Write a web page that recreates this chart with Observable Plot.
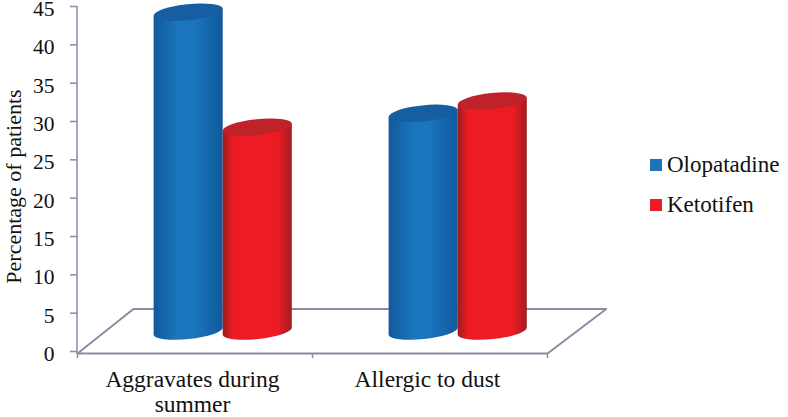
<!DOCTYPE html>
<html>
<head>
<meta charset="utf-8">
<script src="https://cdn.jsdelivr.net/npm/d3@7"></script>
<script src="https://cdn.jsdelivr.net/npm/@observablehq/plot@0.6"></script>
<style>
  html, body { margin: 0; padding: 0; background: #fff; }
  #chart { position: relative; width: 788px; height: 417px; overflow: hidden; }
  .legend { position: absolute; left: 650px; top: 145px; font: 23px "Liberation Serif", serif; color: #111; }
  .legend div { display: flex; align-items: center; height: 40px; }
  .legend i { width: 12px; height: 12px; margin-right: 5px; display: block; }
</style>
</head>
<body>
<div id="chart"></div>
<script>
const categories = ["Aggravates during\nsummer", "Allergic to dust"];
const seriesNames = ["Olopatadine", "Ketotifen"];
const olopatadine = [44.2, 31.0];
const ketotifen = [29.2, 32.6];
const yTicks = [0, 5, 10, 15, 20, 25, 30, 35, 40, 45];

const floorLevel = 2.6;
const cylinderWidth = 0.294;
const clusterCentre = 0.62;
const wall = "#8b8ba6";
const serif = "Liberation Serif";

const table = categories.flatMap((c, i) => [
  {slot: i + clusterCentre - cylinderWidth, series: seriesNames[0], value: olopatadine[i]},
  {slot: i + clusterCentre, series: seriesNames[1], value: ketotifen[i]}
]);
const floorOutline = [
  {x: 0, y: -0.26}, {x: 0.238, y: 5.55}, {x: 2.25, y: 5.55}, {x: 2, y: -0.26}, {x: 0, y: -0.26}
];

function cylinder(index, scales, values, dimensions, context, next) {
  const g = next(index, scales, values, dimensions, context);
  const tilt = 3.6, ry = 8;
  for (const r of [...g.querySelectorAll("rect")]) {
    const x = +r.getAttribute("x"), y = +r.getAttribute("y");
    const w = +r.getAttribute("width"), h = +r.getAttribute("height");
    const fill = r.getAttribute("fill");
    const rx = w / 2 * 1.003, cx = x + w / 2, rot = -6;
    const ns = "http://www.w3.org/2000/svg";
    const body = document.createElementNS(ns, "path");
    body.setAttribute("d",
      `M${x},${y + tilt}L${x},${y + h + tilt}A${rx},${ry} ${rot} 0 0 ${x + w},${y + h - tilt}L${x + w},${y - tilt}Z`);
    body.setAttribute("fill", fill);
    const top = document.createElementNS(ns, "ellipse");
    top.setAttribute("cx", cx); top.setAttribute("cy", y);
    top.setAttribute("rx", rx); top.setAttribute("ry", ry);
    top.setAttribute("transform", `rotate(${rot} ${cx} ${y})`);
    top.setAttribute("fill", fill.includes("blue") ? "#155ea2" : "#bf2329");
    r.replaceWith(body, top);
  }
  return g;
}

const plot = Plot.plot({
  width: 788,
  height: 417,
  marginLeft: 77,
  marginRight: 241,
  marginTop: 6,
  marginBottom: 64,
  style: {background: "#fff", fontFamily: serif, color: "#111", overflow: "visible"},
  x: {domain: [0, 2]},
  y: {domain: [-0.26, 45]},
  color: {domain: seriesNames, range: ["url(#blue)", "url(#red)"]},
  marks: [
    Plot.line(floorOutline, {x: "x", y: "y", stroke: wall, strokeWidth: 2}),
    Plot.ruleX([0], {y1: -0.26, y2: 45, stroke: wall, strokeWidth: 1.5, dx: -0.5}),
    Plot.axisY({
      ticks: yTicks, tickSize: 7, tickFormat: () => "", stroke: wall, strokeWidth: 1.5, label: null
    }),
    Plot.axisY({
      ticks: yTicks, tickSize: 0, tickPadding: 23, fill: "#111", label: null, fontSize: 21.5, dy: 2.5
    }),
    Plot.text(["Percentage of patients"], {
      frameAnchor: "left", textAnchor: "middle", rotate: -90, dx: -64, dy: 6.5, fontSize: 22, fill: "#111"
    }),
    Plot.axisX({ticks: [0, 1, 2], tickSize: 5, tickFormat: () => "", stroke: wall, strokeWidth: 1.5, label: null}),
    Plot.axisX({
      ticks: [0.5, 1.5], tickSize: 0, tickPadding: 15, label: null, lineHeight: 1.08, dx: -2.5,
      fill: "#111", fontSize: 23.5, tickFormat: d => categories[Math.floor(d)], textOverflow: null, lineWidth: Infinity
    }),
    Plot.rectY(table, {
      x1: "slot",
      x2: d => d.slot + cylinderWidth,
      y1: floorLevel,
      y2: "value",
      fill: "series",
      render: cylinder
    })
  ]
});

const defs = d3.create("svg:defs");
const ramps = [
  ["blue", [[0, "#11599c"], [0.35, "#1a75bc"], [0.6, "#1a75bc"], [1, "#11599c"]]],
  ["red", [[0, "#9b1c20"], [0.15, "#ed1c24"], [0.8, "#ed1c24"], [1, "#a01d22"]]]
];
for (const [id, stops] of ramps) {
  const lg = defs.append("linearGradient").attr("id", id);
  stops.forEach(([o, c]) => lg.append("stop").attr("offset", o).attr("stop-color", c));
}
plot.insertBefore(defs.node(), plot.firstChild);

const chart = document.getElementById("chart");
chart.appendChild(plot);
const legend = document.createElement("div");
legend.className = "legend";
legend.innerHTML = seriesNames.map((s, i) =>
  `<div><i style="background:${["#1b75bb", "#ed1c24"][i]}"></i><span>${s}</span></div>`).join("");
chart.appendChild(legend);
</script>
</body>
</html>
